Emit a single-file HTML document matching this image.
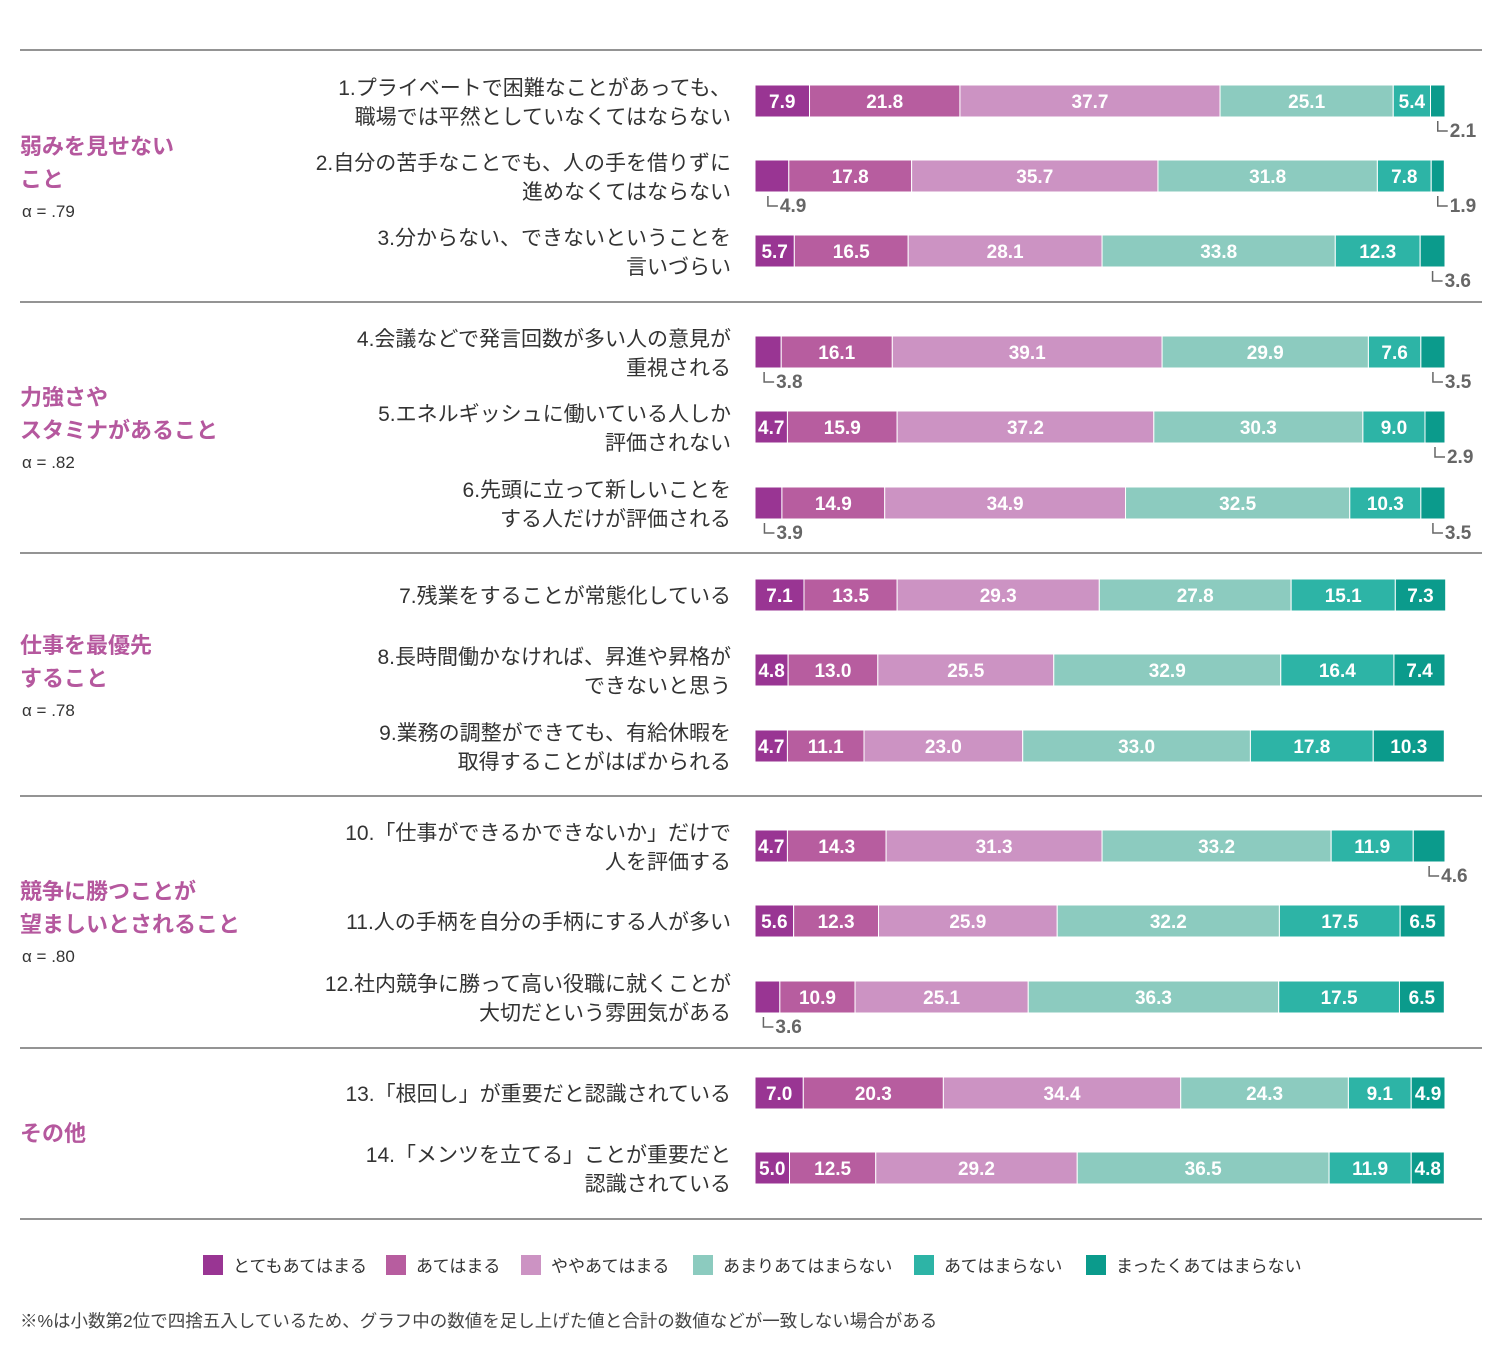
<!DOCTYPE html>
<html><head><meta charset="utf-8"><style>
body{margin:0;background:#fff;}
svg text{font-family:"Liberation Sans","Noto Sans CJK JP",sans-serif;}
</style></head><body>
<svg id="c" width="1508" height="1350" xmlns="http://www.w3.org/2000/svg"></svg>
<script>
const questions=[
["1.プライベートで困難なことがあっても、","職場では平然としていなくてはならない"],
["2.自分の苦手なことでも、人の手を借りずに","進めなくてはならない"],
["3.分からない、できないということを","言いづらい"],
["4.会議などで発言回数が多い人の意見が","重視される"],
["5.エネルギッシュに働いている人しか","評価されない"],
["6.先頭に立って新しいことを","する人だけが評価される"],
["7.残業をすることが常態化している"],
["8.長時間働かなければ、昇進や昇格が","できないと思う"],
["9.業務の調整ができても、有給休暇を","取得することがはばかられる"],
["10.「仕事ができるかできないか」だけで","人を評価する"],
["11.人の手柄を自分の手柄にする人が多い"],
["12.社内競争に勝って高い役職に就くことが","大切だという雰囲気がある"],
["13.「根回し」が重要だと認識されている"],
["14.「メンツを立てる」ことが重要だと","認識されている"]];
const values=[
[7.9,21.8,37.7,25.1,5.4,2.1],
[4.9,17.8,35.7,31.8,7.8,1.9],
[5.7,16.5,28.1,33.8,12.3,3.6],
[3.8,16.1,39.1,29.9,7.6,3.5],
[4.7,15.9,37.2,30.3,9.0,2.9],
[3.9,14.9,34.9,32.5,10.3,3.5],
[7.1,13.5,29.3,27.8,15.1,7.3],
[4.8,13.0,25.5,32.9,16.4,7.4],
[4.7,11.1,23.0,33.0,17.8,10.3],
[4.7,14.3,31.3,33.2,11.9,4.6],
[5.6,12.3,25.9,32.2,17.5,6.5],
[3.6,10.9,25.1,36.3,17.5,6.5],
[7.0,20.3,34.4,24.3,9.1,4.9],
[5.0,12.5,29.2,36.5,11.9,4.8]];
const outside=[[5],[0,5],[5],[0,5],[5],[0,5],[],[],[],[5],[],[0],[],[]];
const rowY=[101,176,251,352,427,503,595,670,746,846,921,997,1093,1168];
const series=["とてもあてはまる","あてはまる","ややあてはまる","あまりあてはまらない","あてはまらない","まったくあてはまらない"];
const colors=["#993593","#b75d9f","#cc93c3","#8ccbbf","#2db4a6","#0b9b8c"];
const groups=[[["弱みを見せない","こと"],"α = .79",146],[["力強さや","スタミナがあること"],"α = .82",397],[["仕事を最優先","すること"],"α = .78",645],[["競争に勝つことが","望ましいとされること"],"α = .80",891],[["その他"],null,1133]];
const seps=[50,302,553,796,1048,1219];
const svg=document.getElementById('c');
const NS="http://www.w3.org/2000/svg";
const X0=755,W=690,BH=32;
const xs=v=>v/100*W;
function mk(t,a,txt){const e=document.createElementNS(NS,t);for(const k in a)e.setAttribute(k,a[k]);if(txt!=null)e.textContent=txt;svg.appendChild(e);return e;}
seps.forEach((y,i)=>{const e=mk('line',{x1:20,x2:1482,y1:y,y2:y,stroke:'#555','stroke-width':1.3});

});
groups.forEach((g,i)=>{g[0].forEach((l,j)=>{const t=mk('text',{x:20,y:g[2]+j*33+8,'font-size':22,'font-weight':'bold',fill:'#b5589e'},l);

});
if(g[1]){const t=mk('text',{x:22,y:g[2]+71,'font-size':17,fill:'#333'},g[1]);

}});
questions.forEach((q,i)=>{const y=rowY[i];const off=q.length==2?-14:0;
q.forEach((l,j)=>{const t=mk('text',{x:731,y:y+off+j*29+8,'font-size':21,fill:'#333','text-anchor':'end'},l);

});
let acc=0;
values[i].forEach((v,k)=>{const x=X0+xs(acc);const w=xs(v);
const r=mk('rect',{x:x,y:y-BH/2,width:w,height:BH,fill:colors[k],stroke:'#fff','stroke-width':1});


if(outside[i].includes(k)){
 const lx=k==0?x+w/2-4:x+w/2;
 const p=mk('path',{d:`M${lx} ${y+20}V${y+30}H${lx+10}`,fill:'none',stroke:'#666','stroke-width':1.5});
 
 
 const t=mk('text',{x:lx+12,y:y+36,'font-size':19,fill:'#666','font-weight':'bold'},v.toFixed(1));
 
 
}else{
 const t=mk('text',{x:x+w/2,y:y+7,'font-size':19,fill:'#fff','font-weight':'bold','text-anchor':'middle'},v.toFixed(1));
 
 
}
acc+=v;});});
const lx=[203,386,521,693,914,1086];
series.forEach((s,k)=>{const r=mk('rect',{x:lx[k],y:1255,width:20,height:20,fill:colors[k]});


const t=mk('text',{x:lx[k]+30,y:1272,'font-size':17,fill:'#333'},s);

});
const f=mk('text',{x:20,y:1327,'font-size':17.5,fill:'#444'},'※%は小数第2位で四捨五入しているため、グラフ中の数値を足し上げた値と合計の数値などが一致しない場合がある');


</script>
</body></html>
